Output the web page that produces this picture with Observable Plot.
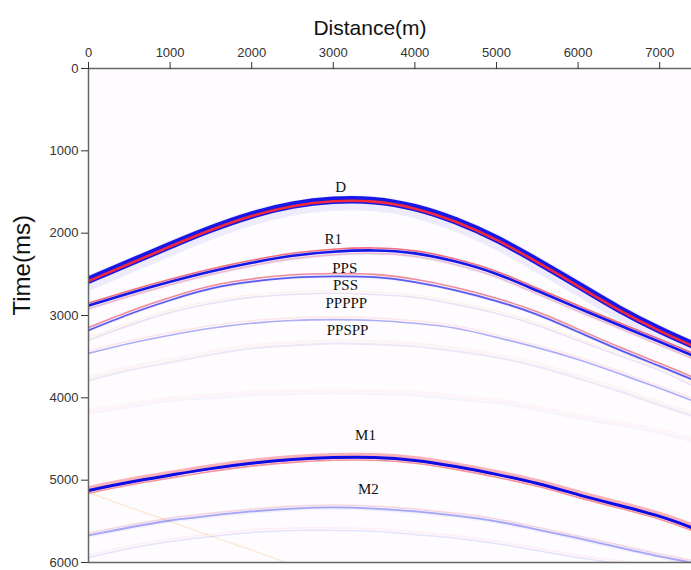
<!DOCTYPE html>
<html><head><meta charset="utf-8">
<script src="https://cdn.jsdelivr.net/npm/d3@7"></script>
<script src="https://cdn.jsdelivr.net/npm/@observablehq/plot@0.6"></script>
<style>body{margin:0;background:#fff}</style>
</head><body><div id="chart"></div>
<script>
// Distances (m) at which arrival times were read
const distance = [0,500,1000,1500,2000,2500,3000,3500,4000,4500,5000,5500,6000,6500,7000,7390];
// Arrival times (ms) per event
const timeD     = [2570,2360,2150,1950,1780,1660,1600,1605,1690,1850,2070,2340,2630,2920,3175,3350];
const timeR1    = [2880,2730,2590,2465,2360,2275,2225,2210,2245,2345,2495,2700,2910,3115,3320,3480];
const timePPS   = [3170,2975,2805,2665,2580,2530,2515,2525,2585,2685,2815,2980,3190,3405,3605,3765];
const timePSS   = [3300,3120,2965,2855,2780,2745,2730,2745,2780,2865,2975,3120,3305,3485,3665,3850];
const timePPPPP = [3460,3340,3240,3155,3095,3060,3050,3060,3095,3155,3265,3390,3535,3705,3885,4030];
const timePPSPP = [3790,3665,3570,3475,3400,3365,3340,3350,3375,3435,3510,3620,3765,3920,4090,4215];
const timeFaint = [4155,4080,4005,3970,3935,3920,3910,3920,3935,3985,4030,4115,4215,4300,4395,4495];
const timeM1    = [5125,5025,4940,4860,4795,4750,4725,4725,4760,4835,4930,5040,5175,5305,5440,5575];
const timeM2    = [5670,5575,5490,5430,5380,5345,5330,5345,5380,5430,5500,5600,5705,5815,5925,6000];
const timeM3    = [5940,5830,5745,5685,5635,5610,5610,5620,5660,5705,5770,5855,5940,6010,6095,6170];
const linearDist = [0,500,1000,1500,2000,2500];
const linearTime = [5150,5330,5500,5680,5850,6030];

const xTicks = [0,1000,2000,3000,4000,5000,6000,7000];
const yTicks = [0,1000,2000,3000,4000,5000,6000];

const eventNames = ["D","R1","PPS","PSS","PPPPP","PPSPP","M1","M2"];
const eventLabelX = [3090,3000,3140,3150,3160,3175,3395,3430];
const eventLabelT = [1445,2076,2430,2635,2855,3180,4455,5110];

const BLUE = "#0c0ce6", RED = "#f2283c", PURPLE = "#7a5cc8", ORANGE = "#f2a050";

function rows(xs, ts) { return xs.map((d, i) => ({x: d, t: ts[i]})); }
function wave(xs, ts, layers) {
  const data = rows(xs, ts);
  return layers.map(L => Plot.line(data, {
    x: "x", y: "t", curve: "natural", clip: true,
    stroke: L.c, strokeWidth: L.w, strokeOpacity: L.o, dy: L.dy || 0
  }));
}

const chart = Plot.plot({
  width: 691, height: 570,
  marginLeft: 88, marginRight: 0, marginTop: 68, marginBottom: 8,
  style: {fontFamily: "'Liberation Sans', Arial, sans-serif", background: "#fff"},
  x: {domain: [0, 7390], axis: null},
  y: {domain: [0, 6000], reverse: true, axis: null},
  marks: [
    Plot.frame({fill: "#fefcfe", stroke: "none"}),
    ...wave(distance, timeFaint, [{c: RED, w: 4, o: 0.03}, {c: BLUE, w: 1.5, o: 0.04, dy: 3}]),
    ...wave(distance, timePPSPP, [{c: PURPLE, w: 2, o: 0.13}, {c: RED, w: 3, o: 0.04, dy: -3}]),
    ...wave(distance, timePPPPP, [{c: RED, w: 1.5, o: 0.1, dy: -2.5}, {c: BLUE, w: 1.6, o: 0.33}]),
    ...wave(distance, timePSS, [{c: PURPLE, w: 1.6, o: 0.16}, {c: ORANGE, w: 1.2, o: 0.12, dy: -2.5}]),
    ...wave(distance, timePPS, [{c: BLUE, w: 5, o: 0.06}, {c: RED, w: 1.6, o: 0.5, dy: -2}, {c: BLUE, w: 1.8, o: 0.65, dy: 0.8}]),
    ...wave(distance, timeR1, [{c: BLUE, w: 7, o: 0.07, dy: 1}, {c: RED, w: 1.6, o: 0.65, dy: -2.5}, {c: BLUE, w: 2.6, o: 0.95}, {c: RED, w: 1.4, o: 0.25, dy: 3}]),
    ...wave(distance, timeD, [{c: BLUE, w: 15, o: 0.07, dy: 3}, {c: BLUE, w: 7.5, o: 0.95}, {c: RED, w: 2.6, o: 1, dy: 1}]),
    ...wave(linearDist, linearTime, [{c: ORANGE, w: 1.5, o: 0.2}]),
    ...wave(distance, timeM3, [{c: BLUE, w: 1.5, o: 0.1}, {c: RED, w: 1.5, o: 0.06, dy: -2.5}]),
    ...wave(distance, timeM2, [{c: RED, w: 1.4, o: 0.15, dy: -2.5}, {c: BLUE, w: 1.8, o: 0.33}, {c: BLUE, w: 5, o: 0.05}]),
    ...wave(distance, timeM1, [{c: RED, w: 6, o: 0.35, dy: -1.5}, {c: BLUE, w: 3, o: 1}, {c: RED, w: 1.6, o: 0.5, dy: 2.8}]),
    Plot.text(eventNames, {x: (d, i) => eventLabelX[i], y: (d, i) => eventLabelT[i], text: d => d,
      fontFamily: "'Liberation Serif', 'Times New Roman', serif", fontSize: 15, fill: "#111"}),
    Plot.ruleX([0], {stroke: "#666", strokeWidth: 1.5}),
    Plot.ruleY([0], {stroke: "#666", strokeWidth: 1.5}),
    Plot.ruleY([6000], {stroke: "#666", strokeWidth: 1.5}),
    Plot.axisX(xTicks, {anchor: "top", tickSize: 7, tickPadding: 5, fontSize: 13, color: "#333", label: null, tickFormat: d => String(d)}),
    Plot.axisY(yTicks, {anchor: "left", tickSize: 7, tickPadding: 3, fontSize: 13, color: "#333", label: null, tickFormat: d => String(d)}),
    Plot.text(["Distance(m)"], {frameAnchor: "top", dy: -48, dx: -20, fontSize: 21, fill: "#111"}),
    Plot.text(["Time(ms)"], {frameAnchor: "left", dx: -66, rotate: -90, fontSize: 24, fill: "#111"})
  ]
});
document.getElementById("chart").appendChild(chart);
</script>
</body></html>
